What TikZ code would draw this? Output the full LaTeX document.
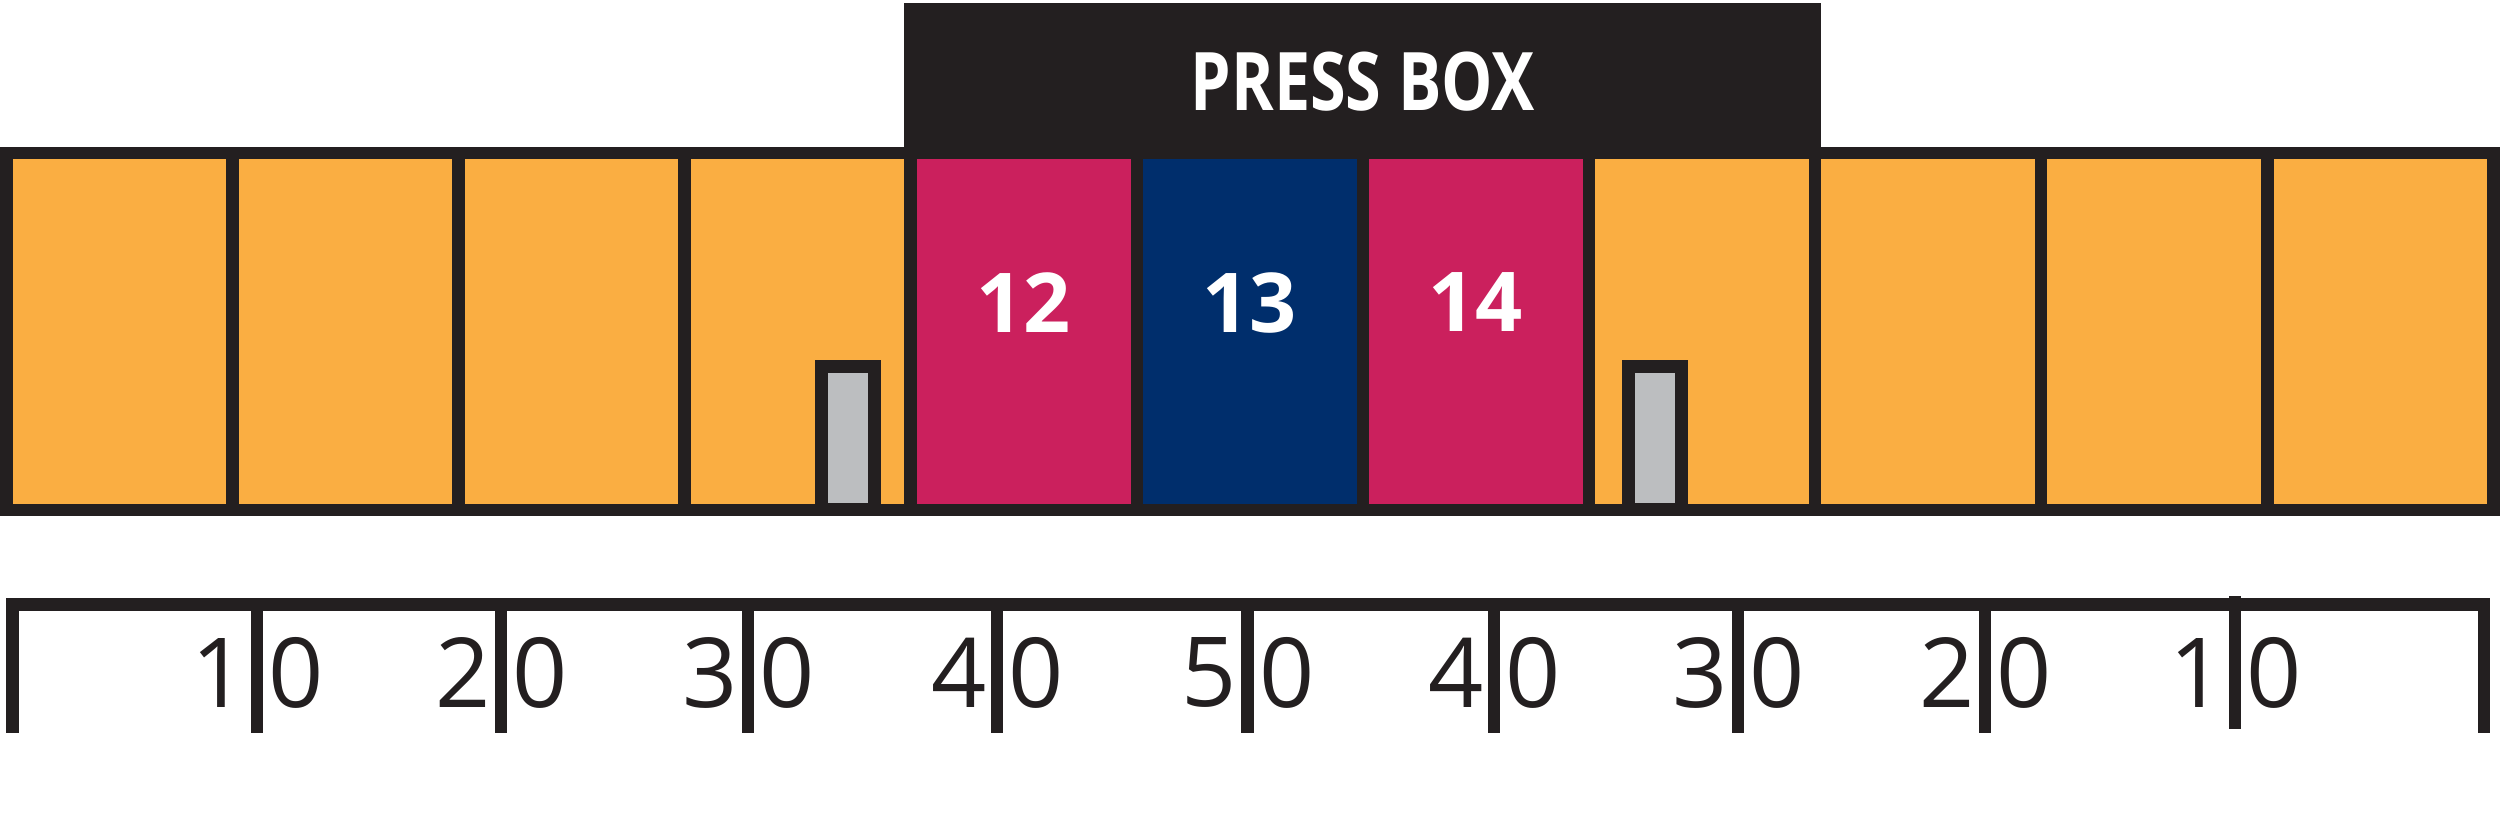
\documentclass[tikz,border=0pt]{standalone}
\usepackage{fontspec}
\setmainfont{Open Sans}
\newfontfamily\pressfont[FakeStretch=0.8]{Open Sans}
\usetikzlibrary{positioning}
\definecolor{seatorange}{RGB}{250,174,66}
\definecolor{seatpink}{RGB}{203,32,93}
\definecolor{seatblue}{RGB}{0,46,108}
\definecolor{boxblack}{RGB}{35,31,32}
\definecolor{aislegray}{RGB}{188,190,192}
\tikzset{
    seat/.style = {draw=boxblack, line width=1.25mm, minimum width=22.61mm,
        minimum height=35.7mm, inner sep=0, outer sep=0},
    aisle/.style = {draw=boxblack, fill=aislegray, line width=1.25mm,
        minimum width=5.3mm, minimum height=14.3mm, inner sep=0},
    secnum/.style = {text=white, font=\bfseries\fontsize{23.5}{26}\selectfont, inner sep=0},
    yardnum/.style = {text=boxblack, font=\fontsize{27.5}{30}\selectfont, inner sep=0},
    yardline/.style = {draw=boxblack, line width=1.25mm},
}

\begin{document}
\begin{tikzpicture}[x=0.1mm,y=-0.1mm]
\useasboundingbox (0,0) rectangle (2500,828);

% press box and seating
\begin{scope}
\node[fill=boxblack, minimum width=91.69mm, minimum height=15.6mm, inner sep=0,
    text=white, font=\pressfont\bfseries\fontsize{23}{26}\selectfont] (press) at (1362.85,81.5) {PRESS BOX};

\node[seat, fill=seatorange] (s1) at (119.3,331.5) {};
\node[seat, fill=seatorange, right=0mm of s1] (s2) {};
\node[seat, fill=seatorange, right=0mm of s2] (s3) {};
\node[seat, fill=seatorange, right=0mm of s3] (s4) {};
\node[seat, fill=seatpink, right=0mm of s4] (s5) {};
\node[seat, fill=seatblue, right=0mm of s5] (s6) {};
\node[seat, fill=seatpink, right=0mm of s6] (s7) {};
\node[seat, fill=seatorange, right=0mm of s7] (s8) {};
\node[seat, fill=seatorange, right=0mm of s8] (s9) {};
\node[seat, fill=seatorange, right=0mm of s9] (s10) {};
\node[seat, fill=seatorange, right=0mm of s10] (s11) {};

\node[secnum] (n12) at ([yshift=2.9mm]s5.center) {12};
\node[secnum] (n13) at ([yshift=2.9mm]s6.center) {13};
\node[secnum] (n14) at ([yshift=2.9mm]s7.center) {14};

\node[aisle] (a1) at (848,438) {};
\node[aisle] (a2) at (1655,438) {};
\end{scope}

% yard lines
\begin{scope}
\draw[yardline, line width=1.3mm] (6.4,604.5) -- (2490,604.5);
\foreach \x in {12.4,257,501,748,997,1247.5,1494,1738,1985,2484}
    \draw[yardline] (\x,598) -- (\x,733);
\draw[yardline] (2235,596) -- (2235,729);

\foreach \x/\d [count=\i] in {257/1,501/2,748/3,997/4,1247.5/5,1494/4,1738/3,1985/2,2235/1}{
    \node[yardnum, anchor=east] (d\i) at (\x-10,672.5) {\d};
    \node[yardnum, anchor=west] (z\i) at (\x+11,672.5) {0};
}
\end{scope}

\end{tikzpicture}
\end{document}
